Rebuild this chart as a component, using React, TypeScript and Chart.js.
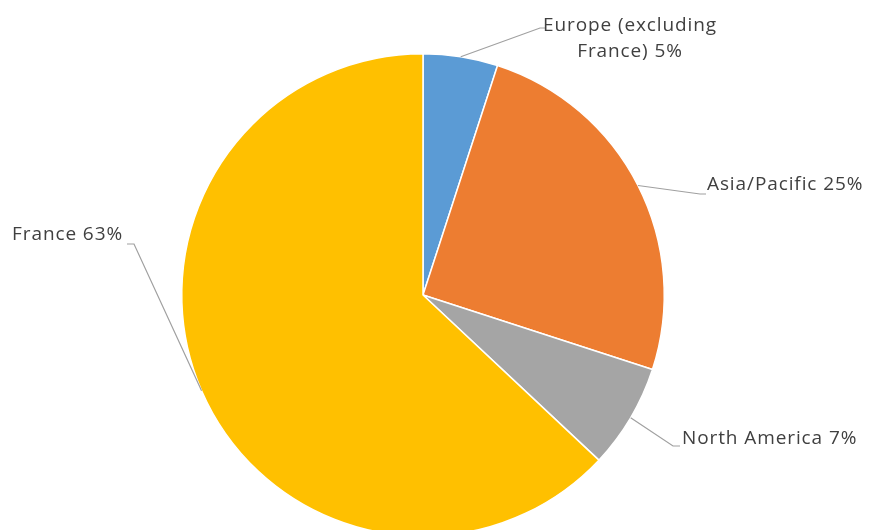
import React, { useEffect, useRef } from "react";
import { Chart, registerables } from "chart.js";

Chart.register(...registerables);

const categories = ["Europe (excluding France)", "Asia/Pacific", "North America", "France"];
const values = [5, 25, 7, 63];
const colors = ["#5B9BD5", "#ED7D31", "#A5A5A5", "#FFC000"];

// label layout: text anchor + leader elbow (layout only)
const labelLayout = [
  { align: "center", x: 630, baseline: 31, lineGap: 26, maxWidth: 210, elbow: [540, 28], stub: [546, 28] },
  { align: "left", x: 707, baseline: 190, lineGap: 26, maxWidth: 400, elbow: [700, 194], stub: [706, 194] },
  { align: "left", x: 682, baseline: 444, lineGap: 26, maxWidth: 400, elbow: [673, 446], stub: [680, 446] },
  { align: "right", x: 123, baseline: 240, lineGap: 26, maxWidth: 400, elbow: [134, 244], stub: [127, 244] },
];

const FONT = "19px 'Open Sans'";

function wrap(ctx: CanvasRenderingContext2D, text: string, maxWidth: number): string[] {
  const words = text.split(" ");
  const lines: string[] = [];
  let cur = "";
  for (const w of words) {
    const t = cur ? cur + " " + w : w;
    if (ctx.measureText(t).width > maxWidth && cur) {
      lines.push(cur);
      cur = w;
    } else cur = t;
  }
  if (cur) lines.push(cur);
  return lines;
}

const labelPlugin = {
  id: "pieLabels",
  afterDraw(chart: any) {
    const ctx: CanvasRenderingContext2D = chart.ctx;
    const meta = chart.getDatasetMeta(0);
    ctx.save();
    ctx.font = FONT;
    (ctx as any).letterSpacing = "0.9px";
    meta.data.forEach((arc: any, i: number) => {
      const lay = labelLayout[i];
      const p = arc.getProps(["x", "y", "startAngle", "endAngle", "outerRadius"], true);
      const mid = (p.startAngle + p.endAngle) / 2;
      const sx = p.x + Math.cos(mid) * p.outerRadius;
      const sy = p.y + Math.sin(mid) * p.outerRadius;
      ctx.strokeStyle = "#A0A0A0";
      ctx.lineWidth = 1.2;
      ctx.beginPath();
      ctx.moveTo(sx, sy);
      ctx.lineTo(lay.elbow[0], lay.elbow[1]);
      ctx.lineTo(lay.stub[0], lay.stub[1]);
      ctx.stroke();

      const text = `${categories[i]} ${values[i]}%`;
      const lines = wrap(ctx, text, lay.maxWidth);
      ctx.fillStyle = "#404040";
      ctx.textAlign = lay.align as CanvasTextAlign;
      ctx.textBaseline = "alphabetic";
      lines.forEach((ln, j) => {
        ctx.fillText(ln, lay.x, lay.baseline + j * lay.lineGap);
      });
    });
    ctx.restore();
  },
};

export default function App() {
  const ref = useRef<HTMLCanvasElement>(null);
  useEffect(() => {
    if (!ref.current) return;
    const chart = new Chart(ref.current, {
      type: "pie",
      data: {
        labels: categories,
        datasets: [
          {
            data: values,
            backgroundColor: colors,
            borderColor: "#ffffff",
            borderWidth: 1.5,
          },
        ],
      },
      options: {
        responsive: false,
        animation: false,
        layout: { padding: { top: 53, left: 181, right: 205, bottom: 63 } },
        plugins: {
          legend: { display: false },
          tooltip: { enabled: false },
        },
      },
      plugins: [labelPlugin],
    });
    return () => chart.destroy();
  }, []);
  return (
    <div style={{ position: "absolute", left: 0, top: 0, width: 870, height: 530, overflow: "hidden", background: "#fff" }}>
      <canvas ref={ref} width={870} height={600} />
    </div>
  );
}
